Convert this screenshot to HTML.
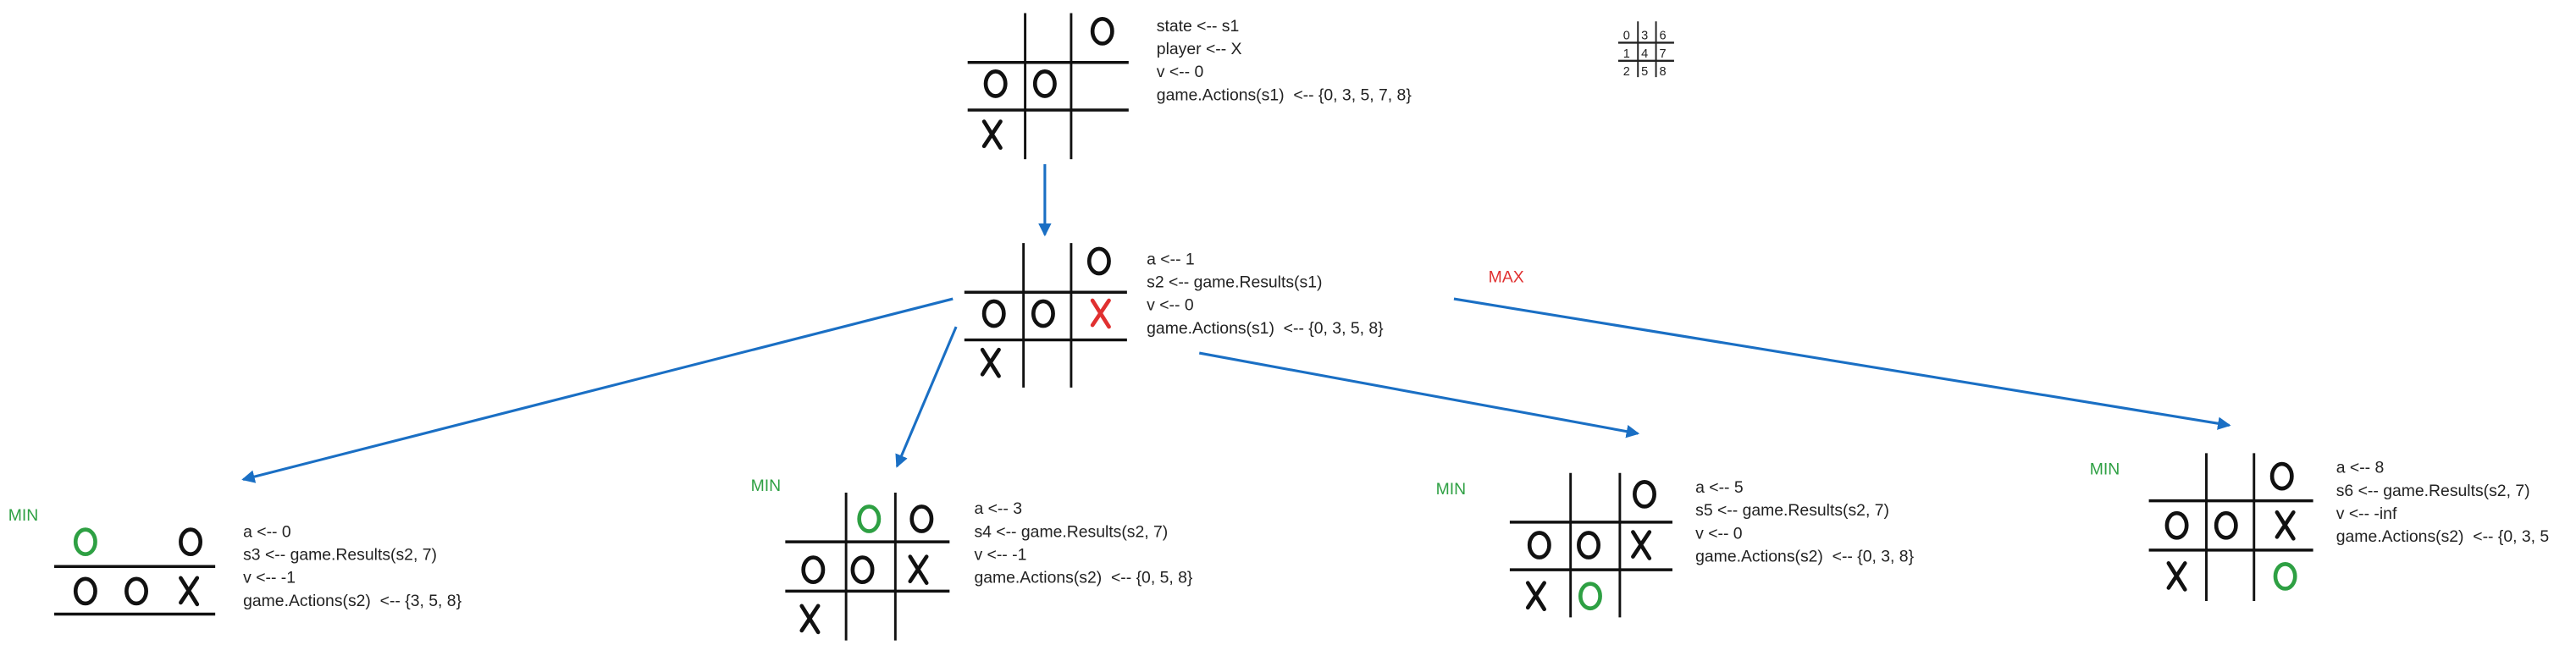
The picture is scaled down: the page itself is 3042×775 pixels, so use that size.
<!DOCTYPE html>
<html><head><meta charset="utf-8"><style>
html,body{margin:0;padding:0;background:#fff;}
svg{display:block;}
text{font-family:"Liberation Sans",sans-serif;white-space:pre;}
</style></head><body>
<svg id="c" width="3042" height="775" viewBox="0 0 1568 399.5" preserveAspectRatio="none" xmlns="http://www.w3.org/2000/svg" xml:space="preserve">
<defs><marker id="ah" markerWidth="8" markerHeight="8" refX="7" refY="4" orient="auto" markerUnits="userSpaceOnUse"><path d="M0,0 L8,4 L0,8 z" fill="#1a6fc4"/></marker></defs>
<g font-size="7.5" fill="#222">
<line x1="997" y1="13" x2="997" y2="47" stroke="#222" stroke-width="1"/>
<line x1="1008" y1="13" x2="1008" y2="47" stroke="#222" stroke-width="1"/>
<line x1="985" y1="26" x2="1019" y2="26" stroke="#222" stroke-width="1.2"/>
<line x1="985" y1="37" x2="1019" y2="37" stroke="#222" stroke-width="1.2"/>
<text x="988" y="24">0</text><text x="999" y="24">3</text><text x="1010" y="24">6</text>
<text x="988" y="35">1</text><text x="999" y="35">4</text><text x="1010" y="35">7</text>
<text x="988" y="46">2</text><text x="999" y="46">5</text><text x="1010" y="46">8</text>
</g>
<text x="906" y="172" font-size="10" fill="#e03030">MAX</text>
</svg>
<script>
const NS="http://www.w3.org/2000/svg";
const svg=document.getElementById('c');
function el(t,a,p){const e=document.createElementNS(NS,t);for(const k in a)e.setAttribute(k,a[k]);(p||svg).appendChild(e);return e;}
const K="#111",G="#2ea043",R="#e03030";
function O(g,x,y,c){el('ellipse',{cx:x,cy:y,rx:6,ry:7.5,fill:'none',stroke:c||K,'stroke-width':2.4},g);}
function X(g,x,y,c){el('line',{x1:x-5,y1:y-8,x2:x+5,y2:y+8,stroke:c||K,'stroke-width':2.4,'stroke-linecap':'round'},g);
 el('line',{x1:x+5,y1:y-8,x2:x-5,y2:y+7,stroke:c||K,'stroke-width':2.4,'stroke-linecap':'round'},g);}
function grid(g,vx,vy0,vy1,hy,hx0,hx1){vx.forEach(x=>el('line',{x1:x,y1:vy0,x2:x,y2:vy1,stroke:K,'stroke-width':1.5},g));
 hy.forEach(y=>el('line',{x1:hx0,y1:y,x2:hx1,y2:y,stroke:K,'stroke-width':1.8},g));}
function txt(g,x,y0,lines){lines.forEach((s,i)=>{const t=el('text',{x:x,y:y0+i*14,'font-size':10,fill:'#222'},g);t.textContent=s;});}
function grp(n){const g=el('g',{});


return g;}
function minl(x,y){const t=el('text',{x:x,y:y,'font-size':10,fill:G});


t.textContent='MIN';}
[[636,100,636,143],[580,182,148,292],[582,199,546,284],[730,215,997,264],[885,182,1357,259]].forEach(a=>{
 const l=el('line',{x1:a[0],y1:a[1],x2:a[2],y2:a[3],stroke:'#1a6fc4','stroke-width':1.6,'marker-end':'url(#ah)'});
 
 
});
let g=grp('root-board');
grid(g,[624,652],8,97,[38,67],589,687);
O(g,671,19);O(g,606,51);O(g,636,51);X(g,604,82);
txt(g,704,19,['state <-- s1','player <-- X','v <-- 0','game.Actions(s1)  <-- {0, 3, 5, 7, 8}']);
g=grp('s2-board');
grid(g,[623,652],148,236,[178,207],587,686);
O(g,669,159);O(g,605,191);O(g,635,191);X(g,670,191,R);X(g,603,221);
txt(g,698,161,['a <-- 1','s2 <-- game.Results(s1)','v <-- 0','game.Actions(s1)  <-- {0, 3, 5, 8}']);
g=grp('s3-board');minl(5,317);
grid(g,[],0,0,[345,374],33,131);
O(g,52,330,G);O(g,116,330);O(g,52,360);O(g,83,360);X(g,115,360);
txt(g,148,327,['a <-- 0','s3 <-- game.Results(s2, 7)','v <-- -1','game.Actions(s2)  <-- {3, 5, 8}']);
g=grp('s4-board');minl(457,299);
grid(g,[515,545],300,390,[330,360],478,578);
O(g,529,316,G);O(g,561,316);O(g,495,347);O(g,525,347);X(g,559,347);X(g,493,377);
txt(g,593,313,['a <-- 3','s4 <-- game.Results(s2, 7)','v <-- -1','game.Actions(s2)  <-- {0, 5, 8}']);
g=grp('s5-board');minl(874,301);
grid(g,[956,986],288,376,[318,347],919,1018);
O(g,1001,301);O(g,937,332);O(g,967,332);X(g,999,332);X(g,935,363);O(g,968,363,G);
txt(g,1032,300,['a <-- 5','s5 <-- game.Results(s2, 7)','v <-- 0','game.Actions(s2)  <-- {0, 3, 8}']);
g=grp('s6-board');minl(1272,289);
grid(g,[1343,1372],276,366,[305,335],1308,1408);
O(g,1389,290);O(g,1325,320);O(g,1355,320);X(g,1391,320);X(g,1325,351);O(g,1391,351,G);
txt(g,1422,288,['a <-- 8','s6 <-- game.Results(s2, 7)','v <-- -inf','game.Actions(s2)  <-- {0, 3, 5']);
</script>
</body></html>
